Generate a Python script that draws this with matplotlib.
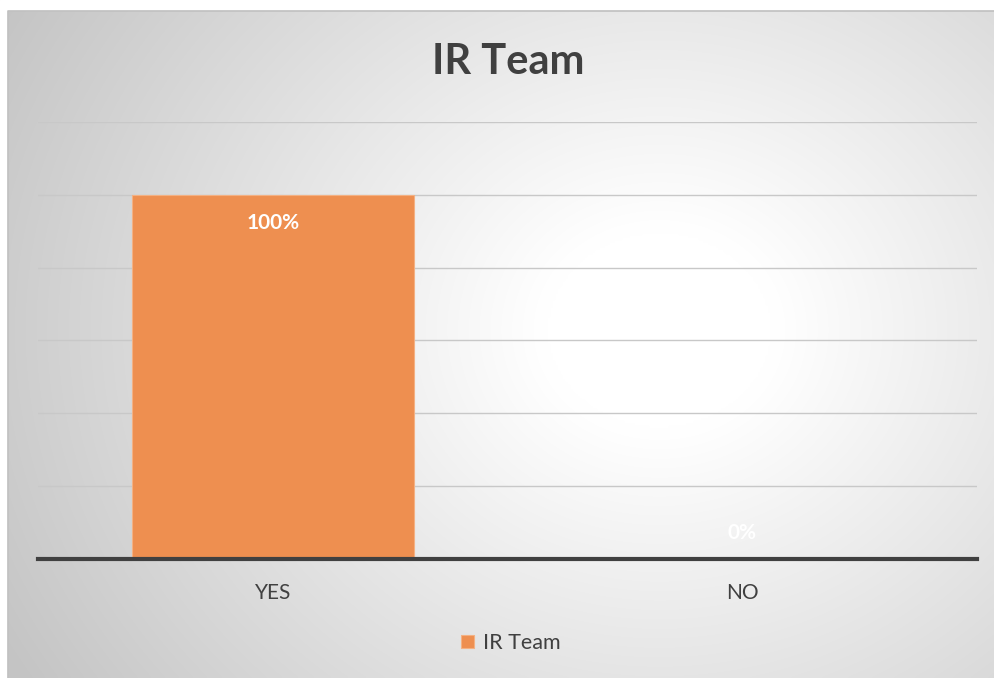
import numpy as np
import matplotlib.pyplot as plt
from matplotlib.patches import Rectangle

categories = ["YES", "NO"]
values = [1.0, 0.0]
value_labels = ["100%", "0%"]
series_name = "IR Team"

plt.rcParams['font.family'] = ['Lato', 'DejaVu Sans']

fig = plt.figure(figsize=(9.95, 6.78), dpi=100)

# soft radial background, white towards the middle-right, grey at the edges
bg = fig.add_axes([0, 0, 1, 1], zorder=0)
gx, gy = np.meshgrid(np.linspace(0, 995, 400), np.linspace(0, 678, 280))
dist = np.hypot((gx - 660) / 640, (gy - 330) / 560)
shade = 1.0 - 0.22 * np.clip(dist - 0.18, 0, None) / 0.95
shade = np.clip(shade, 0.77, 1.0)
bg.imshow(np.dstack([shade, shade, shade]), extent=[0, 995, 678, 0], aspect='auto',
          interpolation='bicubic')
bg.set_xlim(0, 995)
bg.set_ylim(678, 0)
bg.add_patch(Rectangle((0, 0), 7, 678, color='white', zorder=2))
bg.add_patch(Rectangle((0, 0), 995, 10, color='white', zorder=2))
bg.plot([7.5, 7.5, 995], [678, 10.5, 10.5], color='#bfbfbf', lw=1.2, zorder=3)
bg.axis('off')

ax = fig.add_axes([38 / 995, 1 - 559 / 678, 939 / 995, (559 - 122) / 678], zorder=1)
ax.patch.set_alpha(0)

x = np.arange(len(categories))
bars = ax.bar(x, values, width=0.6, color='#ee8f50', edgecolor='#f4b183',
              linewidth=0.8, label=series_name, zorder=2)

ax.set_xlim(-0.5, 1.5)
ax.set_ylim(0, 1.2)
ax.set_yticks(np.arange(0.2, 1.21, 0.2))
ax.yaxis.grid(True, color='#c8c8c8', lw=1)
ax.set_axisbelow(True)
ax.tick_params(axis='y', left=False, labelleft=False)
ax.set_xticks(x)
ax.set_xticklabels(categories, fontsize=15, color='#404040')
ax.tick_params(axis='x', length=0, pad=17)
for side in ['top', 'right', 'left']:
    ax.spines[side].set_visible(False)
ax.spines['bottom'].set_color('#404040')
ax.spines['bottom'].set_linewidth(3)
ax.spines['bottom'].set_zorder(3)

# labels sit just inside the top of each bar; an empty bar gets its label above the axis
for xi, v, lab in zip(x, values, value_labels):
    dy = -20 if v > 0 else 19
    ax.annotate(lab, (xi, v), xytext=(0, dy), textcoords='offset points',
                ha='center', va='center', color='white', fontsize=15,
                fontweight='bold', zorder=4)

fig.text(508 / 995, 1 - 62 / 678, "IR Team", ha='center', va='center',
         fontsize=30, fontweight='bold', color='#404040')

leg = fig.legend(loc='center', bbox_to_anchor=(511 / 995, 1 - 643 / 678),
                 frameon=False, fontsize=15.5, handlelength=0.6, handleheight=0.6,
                 handletextpad=0.4, labelcolor='#404040')

fig.savefig("out.png", dpi=100)
